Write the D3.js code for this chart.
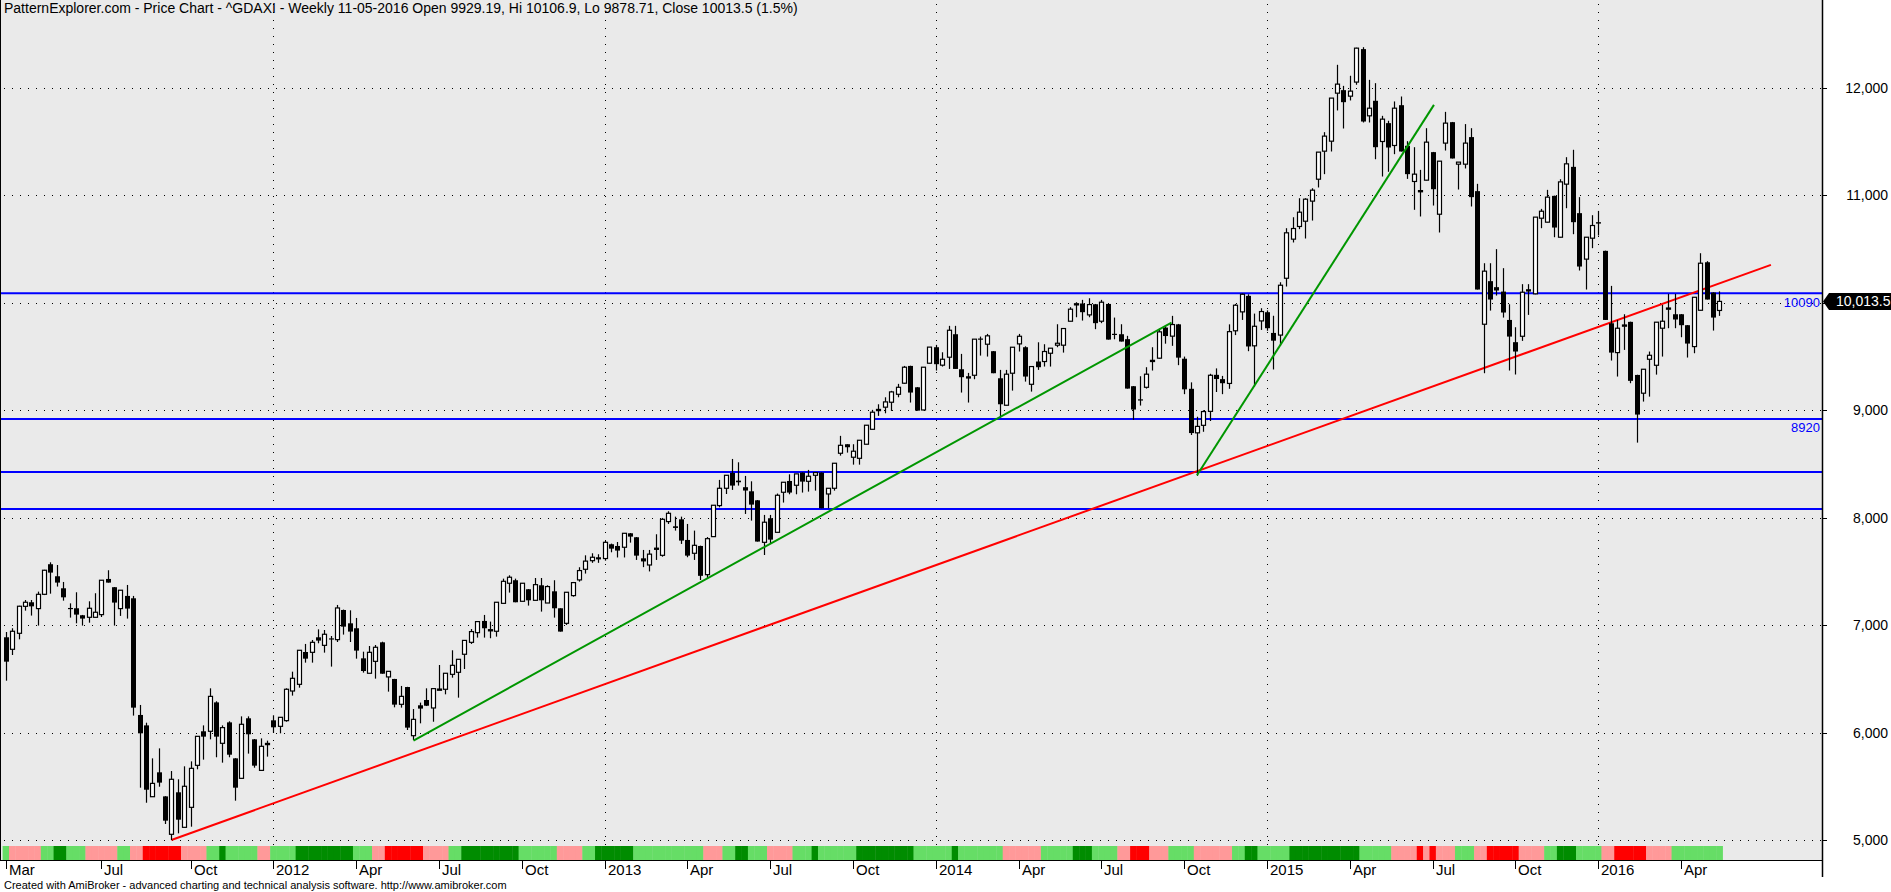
<!DOCTYPE html>
<html><head><meta charset="utf-8">
<script src="https://cdn.jsdelivr.net/npm/d3@7/dist/d3.min.js"></script>
<style>
body{margin:0;background:#fff;}
svg{display:block;font-family:"Liberation Sans",Arial,sans-serif;}
</style>
</head><body>
<svg id="chart" width="1891" height="892"></svg>
<script>
// ---------------- DATA ----------------
const firstBarDate = "2011-03-18"; // weekly bars (Friday dated)
const opens = [6887,6775,6924,7175,7213,7154,7287,7567,7455,7343,7160,7157,7092,7073,7073,7098,7430,7353,7154,7272,
7250,6164,6067,5403,5630,5406,5053,5444,5118,5304,5695,6012,6012,6281,5900,6095,5760,5574,6133,5937,
5648,5897,6114,6058,6111,6387,6449,6750,6747,6887,6812,6877,6865,7141,7017,6971,6691,6552,6663,6840,
6518,6499,6263,6424,5971,6254,6303,6229,6400,6403,6542,6561,6729,6840,6930,7039,6950,6943,7203,7390,
7418,7222,7334,7231,7371,7206,7315,7157,7017,7275,7421,7520,7600,7632,7620,7753,7737,7725,7855,7818,
7622,7560,7722,7650,7964,7920,7985,7793,7669,7737,7470,7824,8113,8274,8417,8345,8284,8246,8162,7771,
7995,7864,8237,8342,8302,8420,8339,8395,8420,8221,8274,8600,8684,8563,8553,8684,8823,9000,9029,9075,
9149,9252,9413,9214,9003,9438,9587,9420,9494,9708,9382,9317,9326,9668,9615,9550,9298,9047,9345,9618,
9587,9242,9454,9454,9531,9606,9606,9829,9990,9994,9888,9987,9829,9990,9712,9708,9662,9224,9102,9214,
9463,9485,9770,9690,9800,9480,9200,8790,8860,8990,9330,9290,9250,9740,9916,10065,9600,9832,9913,9720,
9700,10229,10593,10711,10760,10947,11151,11412,11505,11952,11980,11924,12055,12362,11741,11881,11502,11673,11465,11840,
11462,11130,11043,11142,11403,10825,11487,11682,11291,11291,11543,11040,9801,10202,10146,10105,9841,9634,9689,10127,
10084,10788,10751,10996,10611,11105,11266,10835,10407,10602,10751,10484,9810,9537,9790,9823,9329,9159,9475,9419,
9764,9948,9894,9894,9792,9593,9931,10378,10096,9929.19];
const highs = [6936,6971,7180,7234,7234,7312,7515,7585,7560,7402,7203,7306,7095,7222,7297,7420,7511,7355,7325,7374,
7272,6257,6092,5760,5853,5408,5642,5565,5686,5732,5965,6067,6412,6291,6067,6105,5762,6151,6151,5940,
5946,5925,6161,6145,6412,6567,6766,6825,6862,6961,6955,6899,7188,7145,7138,7067,6753,6806,6815,6846,
6570,6500,6434,6426,6219,6279,6412,6409,6629,6552,6766,6682,6858,6964,7033,7095,7033,7213,7433,7464,
7433,7390,7336,7439,7439,7371,7418,7157,7306,7402,7539,7650,7669,7660,7785,7759,7774,7855,7858,7820,
7700,7700,7846,7998,8060,8010,8010,7942,7880,7740,7820,8116,8352,8395,8547,8516,8389,8339,8165,8026,
8026,8225,8330,8404,8408,8422,8445,8420,8422,8274,8507,8762,8684,8684,8721,8861,9004,9056,9121,9181,
9246,9413,9415,9216,9401,9588,9609,9540,9786,9786,9525,9348,9662,9686,9711,9552,9376,9376,9587,9711,
9596,9407,9633,9615,9578,9801,9761,9960,10006,10028,10043,9990,10028,9992,9863,9801,9693,9226,9317,9401,
9587,9760,9790,9879,9804,9500,9260,8940,9000,9340,9390,9320,9800,9990,10087,10080,9900,9950,9930,9880,
10192,10695,10797,10974,10974,11067,11403,11589,11906,12216,12020,12114,12375,12380,12076,12045,11741,11695,11875,11921,
11505,11449,11238,11626,11405,11319,11778,11684,11310,11664,11626,11108,10369,10369,10500,10323,9987,9773,10174,10174,
10798,10875,11052,10998,11151,11356,11425,10984,10611,10816,10856,10486,10158,9841,9894,9825,9331,9382,9547,9820,
9981,10084,10084,9896,9794,10052,10462,10388,10098,10106.9];
const lows = [6483,6722,6868,7135,7089,6996,7280,7293,7359,7228,7070,7017,6996,7023,7073,7076,7396,6996,7086,7061,
6158,5487,5347,5403,5496,5149,5000,5062,5118,5124,5658,5748,5937,5770,5720,5770,5366,5574,5804,5673,
5648,5776,5999,5993,6101,6344,6418,6651,6651,6831,6744,6614,6843,6912,6843,6688,6558,6552,6502,6548,
6381,6235,6232,6024,5931,6086,6247,6101,6396,6356,6511,6325,6592,6825,6884,6884,6878,6893,7203,7303,
7213,7222,7182,7231,7126,7206,7070,6940,7002,7265,7405,7480,7580,7580,7600,7678,7630,7630,7768,7607,
7540,7500,7607,7637,7942,7880,7756,7632,7607,7420,7430,7824,8097,8221,8259,8299,8035,7973,7778,7653,
7762,7864,8141,8218,8218,8234,8243,8252,8088,8088,8252,8578,8606,8494,8494,8684,8823,8948,8972,8994,
9121,9246,9072,8997,9000,9436,9370,9407,9385,9385,9165,9072,9289,9509,9500,9345,8932,9045,9183,9547,
9267,9174,9376,9407,9407,9587,9537,9829,9866,9835,9866,9755,9811,9658,9661,9640,9202,8910,9044,9202,
9370,9480,9620,9600,9420,9150,8770,8390,8800,8900,9170,9150,9200,9700,9841,9550,9220,9748,9740,9380,
9600,10152,10562,10686,10599,10766,11074,11198,11409,11791,11623,11884,12030,11679,11679,11337,11176,11220,11384,11409,
11154,10866,10804,11140,10906,10655,11418,11344,11055,11251,10897,10124,9345,9928,10068,9863,9370,9333,9646,9888,
10080,10695,10749,10611,10609,10881,10639,10301,10124,10509,10627,9841,9463,9314,9562,9252,8699,9081,9127,9332,
9500,9764,9764,9680,9491,9531,9929,10031,9742,9878.71];
const closes = [6660,6943,7176,7213,7175,7287,7511,7489,7396,7259,7155,7098,7061,7157,7120,7418,7396,7210,7325,7154,
6232,5993,5468,5527,5534,5180,5565,5189,5500,5667,5965,5962,6337,5962,6046,5794,5487,6077,5984,5692,
5872,5899,6049,6142,6403,6505,6766,6688,6840,6856,6915,6868,7160,6986,6940,6763,6573,6747,6794,6548,
6570,6260,6337,6046,6123,6223,6250,6409,6405,6552,6626,6682,6858,6940,7033,6971,6958,7213,7408,7446,
7213,7390,7231,7377,7231,7359,7157,6940,7306,7396,7508,7596,7632,7612,7771,7712,7694,7855,7824,7647,
7593,7661,7700,7985,8041,7905,7787,7647,7743,7459,7805,8116,8274,8395,8299,8330,8253,8122,7778,7958,
7796,8209,8330,8234,8408,8336,8386,8420,8088,8274,8507,8674,8656,8619,8721,8861,8982,9008,9078,9171,
9214,9401,9165,8997,9401,9588,9429,9475,9745,9385,9308,9295,9662,9660,9693,9345,9056,9336,9587,9689,
9314,9407,9401,9547,9578,9624,9761,9941,9992,9913,9984,9811,10006,9658,9710,9640,9202,9007,9098,9336,
9465,9730,9691,9798,9490,9195,8788,8850,8988,9326,9291,9252,9732,9978,10080,9594,9782,9919,9764,9648,
10164,10652,10692,10844,10965,11049,11403,11552,11906,12036,11868,11971,12371,11688,11812,11449,11710,11446,11812,11409,
11198,11198,11045,11496,11058,11319,11673,11344,11310,11487,10984,10124,10295,10031,10115,9910,9686,9547,10099,10105,
10798,10853,10984,10701,11126,11294,10751,10338,10611,10720,10738,9841,9537,9764,9794,9274,8960,9382,9512,9820,
9829,9952,9845,9792,9621,10052,10369,10031,9863,10013.5];

// colour strip under the candles: [code, number of bars]
const stripRuns = [["L",1],["P",5],["L",2],["D",2],["L",3],["P",5],["L",2],["P",2],["R",6],["P",4],
["L",2],["D",1],["L",5],["P",2],["L",4],["D",9],["L",3],["P",2],["R",6],["P",4],
["L",2],["D",9],["L",6],["P",4],["L",2],["D",6],["L",11],["P",3],["L",2],["D",2],
["L",3],["P",4],["L",3],["D",1],["L",6],["D",9],["L",6],["D",1],["L",7],["P",6],
["L",5],["D",3],["L",4],["P",2],["R",3],["P",3],["L",4],["P",6],["L",2],["D",2],
["L",5],["D",11],["L",5],["P",4],["R",1],["P",1],["R",1],["P",3],["L",3],["P",2],
["R",5],["P",4],["L",2],["D",3],["L",4],["P",2],["R",5],["P",4],["L",8]];
const stripColors = {L:"#66DD66", D:"#008C00", P:"#FF9999", R:"#FF0000"};

const priceTicks = [5000,6000,7000,8000,9000,10000,11000,12000];
const monthTickLabels = ["Mar","Jul","Oct","2012","Apr","Jul","Oct","2013","Apr","Jul","Oct","2014",
  "Apr","Jul","Oct","2015","Apr","Jul","Oct","2016","Apr"];
const levels = [10090, 8920, 8425, 8080];
const levelLabels = [{value:10090,text:"10090"},{value:8920,text:"8920"}];
const redLine = [{bar:26,price:5000},{bar:277.1,price:10354}];
const greenLines = [
  [{bar:64,price:5926},{bar:183,price:9817}],
  [{bar:187,price:8395},{bar:224.2,price:11843}]
];
const titleText = "PatternExplorer.com - Price Chart - ^GDAXI - Weekly 11-05-2016 Open 9929.19, Hi 10106.9, Lo 9878.71, Close 10013.5 (1.5%)";
const footerText = "Created with AmiBroker - advanced charting and technical analysis software. http://www.amibroker.com";
const lastCloseLabel = "10,013.5";

// ---------------- CHART ----------------
const svg = d3.select("#chart");
const W = 1891, H = 892;
const plotRight = 1822, plotBottom = 860, stripTop = 846, stripBottom = 859;
const n = closes.length;
const dates = closes.map((_, i) => d3.utcDay.offset(new Date(firstBarDate + "T00:00:00Z"), 7 * i));

const x = d3.scaleLinear().domain([0, n - 1]).range([5.8, 5.8 + (n - 1) * 6.37]);
const step = 6.37;
const y = d3.scaleLinear().domain([5000, 12000]).range([840, 88]);

// background
svg.append("rect").attr("x",0).attr("y",0).attr("width",W).attr("height",H).attr("fill","#fff");
svg.append("rect").attr("x",0).attr("y",0).attr("width",plotRight).attr("height",plotBottom).attr("fill","#EAEAEA");

// horizontal dotted grid
svg.append("g").selectAll("line").data(priceTicks).join("line")
  .attr("x1",4).attr("x2",plotRight)
  .attr("y1",d=>Math.round(y(d))+0.5).attr("y2",d=>Math.round(y(d))+0.5)
  .attr("stroke","#000").attr("stroke-width",1).attr("stroke-dasharray","1 7");

// year vertical dotted grid
const yearBars = d3.range(1,n).filter(i => dates[i].getUTCFullYear() !== dates[i-1].getUTCFullYear());
svg.append("g").selectAll("line").data(yearBars).join("line")
  .attr("x1",i=>Math.round(x(i))+0.5).attr("x2",i=>Math.round(x(i))+0.5)
  .attr("y1",4).attr("y2",stripTop)
  .attr("stroke","#000").attr("stroke-width",1).attr("stroke-dasharray","1 7");

// horizontal blue levels
svg.append("g").selectAll("line").data(levels).join("line")
  .attr("x1",0).attr("x2",plotRight)
  .attr("y1",d=>y(d)).attr("y2",d=>y(d))
  .attr("stroke","#0000FF").attr("stroke-width",2);
svg.append("g").selectAll("text").data(levelLabels).join("text")
  .attr("x",1820).attr("y",d=>y(d.value)+13.5)
  .attr("text-anchor","end").attr("font-size",13).attr("fill","#0000FF").text(d=>d.text);

// colour strip
const stripSeq = [];
stripRuns.forEach(([c,k]) => { for (let j=0;j<k;j++) stripSeq.push(c); });
svg.append("g").selectAll("rect").data(stripSeq).join("rect")
  .attr("x",(d,i)=>x(i)-step/2).attr("width",step+0.4)
  .attr("y",stripTop).attr("height",stripBottom-stripTop+1)
  .attr("fill",d=>stripColors[d]);

// trend lines
const lineGen = d3.line().x(d=>x(d.bar)).y(d=>y(d.price));
svg.append("path").attr("d",lineGen(redLine)).attr("stroke","#FF0000").attr("stroke-width",2).attr("fill","none");

// candles
const bars = closes.map((c,i)=>({i,o:opens[i],h:highs[i],l:lows[i],c}));
const cg = svg.append("g");
cg.selectAll("line").data(bars).join("line")
  .attr("x1",d=>Math.round(x(d.i))+0.5).attr("x2",d=>Math.round(x(d.i))+0.5)
  .attr("y1",d=>y(d.h)).attr("y2",d=>y(d.l))
  .attr("stroke","#000").attr("stroke-width",1.2);
cg.selectAll("rect").data(bars).join("rect")
  .attr("x",d=> d.c>=d.o ? Math.round(x(d.i))-1.5 : Math.round(x(d.i))-2)
  .attr("width",d=> d.c>=d.o ? 4 : 5)
  .attr("y",d=>y(Math.max(d.o,d.c)))
  .attr("height",d=>Math.max(1.2, Math.abs(y(d.o)-y(d.c))))
  .attr("fill",d=> d.c>=d.o ? "#fff" : "#000")
  .attr("stroke",d=> d.c>=d.o ? "#000" : "none")
  .attr("stroke-width",1.2);

greenLines.forEach(gl => {
  svg.append("path").attr("d",lineGen(gl)).attr("stroke","#009600").attr("stroke-width",2).attr("fill","none");
});

// frame lines
svg.append("line").attr("x1",0.5).attr("x2",0.5).attr("y1",0).attr("y2",plotBottom).attr("stroke","#000");
svg.append("line").attr("x1",0).attr("x2",plotRight).attr("y1",plotBottom+0.5).attr("y2",plotBottom+0.5).attr("stroke","#000");
svg.append("line").attr("x1",plotRight+0.5).attr("x2",plotRight+0.5).attr("y1",0).attr("y2",877).attr("stroke","#000").attr("stroke-width",1.5);

// last price tag position
const yl = y(closes[n-1]);

// right price axis (label hidden behind the last-price tag is not drawn)
const ra = svg.append("g");
ra.selectAll("line").data(priceTicks).join("line")
  .attr("x1",plotRight).attr("x2",plotRight+5)
  .attr("y1",d=>Math.round(y(d))+0.5).attr("y2",d=>Math.round(y(d))+0.5).attr("stroke","#000");
ra.selectAll("text").data(priceTicks.filter(d => Math.abs(y(d) - yl) > 14)).join("text")
  .attr("x",1888).attr("y",d=>y(d)+5).attr("text-anchor","end")
  .attr("font-size",14).attr("fill","#000").text(d=>d3.format(",")(d));

// last price tag
svg.append("path")
  .attr("d",`M${plotRight+1},${yl} L${plotRight+7},${yl-8.5} L${W},${yl-8.5} L${W},${yl+8.5} L${plotRight+7},${yl+8.5} Z`)
  .attr("fill","#000");
svg.append("text").attr("x",1836).attr("y",yl+5).attr("font-size",14).attr("fill","#fff").text(lastCloseLabel);

// bottom month axis: first bar, then quarter-month starts (skipping one too close to the first label)
const quarterStarts = d3.range(1,n).filter(i => dates[i].getUTCMonth() !== dates[i-1].getUTCMonth() && dates[i].getUTCMonth() % 3 === 0);
const tickBars = [0].concat(quarterStarts.filter(i => x(i) - x(0) > 40));
const ba = svg.append("g");
ba.selectAll("line").data(tickBars).join("line")
  .attr("x1",i=>Math.round(x(i))+0.5).attr("x2",i=>Math.round(x(i))+0.5)
  .attr("y1",plotBottom).attr("y2",plotBottom+9).attr("stroke","#000");
ba.selectAll("text").data(tickBars).join("text")
  .attr("x",i=>Math.round(x(i))+3).attr("y",874.5)
  .attr("font-size",15).attr("fill","#000").text((i,k)=>monthTickLabels[k]);

// title & footer
svg.append("text").attr("x",4).attr("y",12.5).attr("font-size",14).attr("fill","#000").text(titleText);
svg.append("text").attr("x",4).attr("y",889).attr("font-size",11).attr("fill","#000").text(footerText);
</script>
</body></html>
